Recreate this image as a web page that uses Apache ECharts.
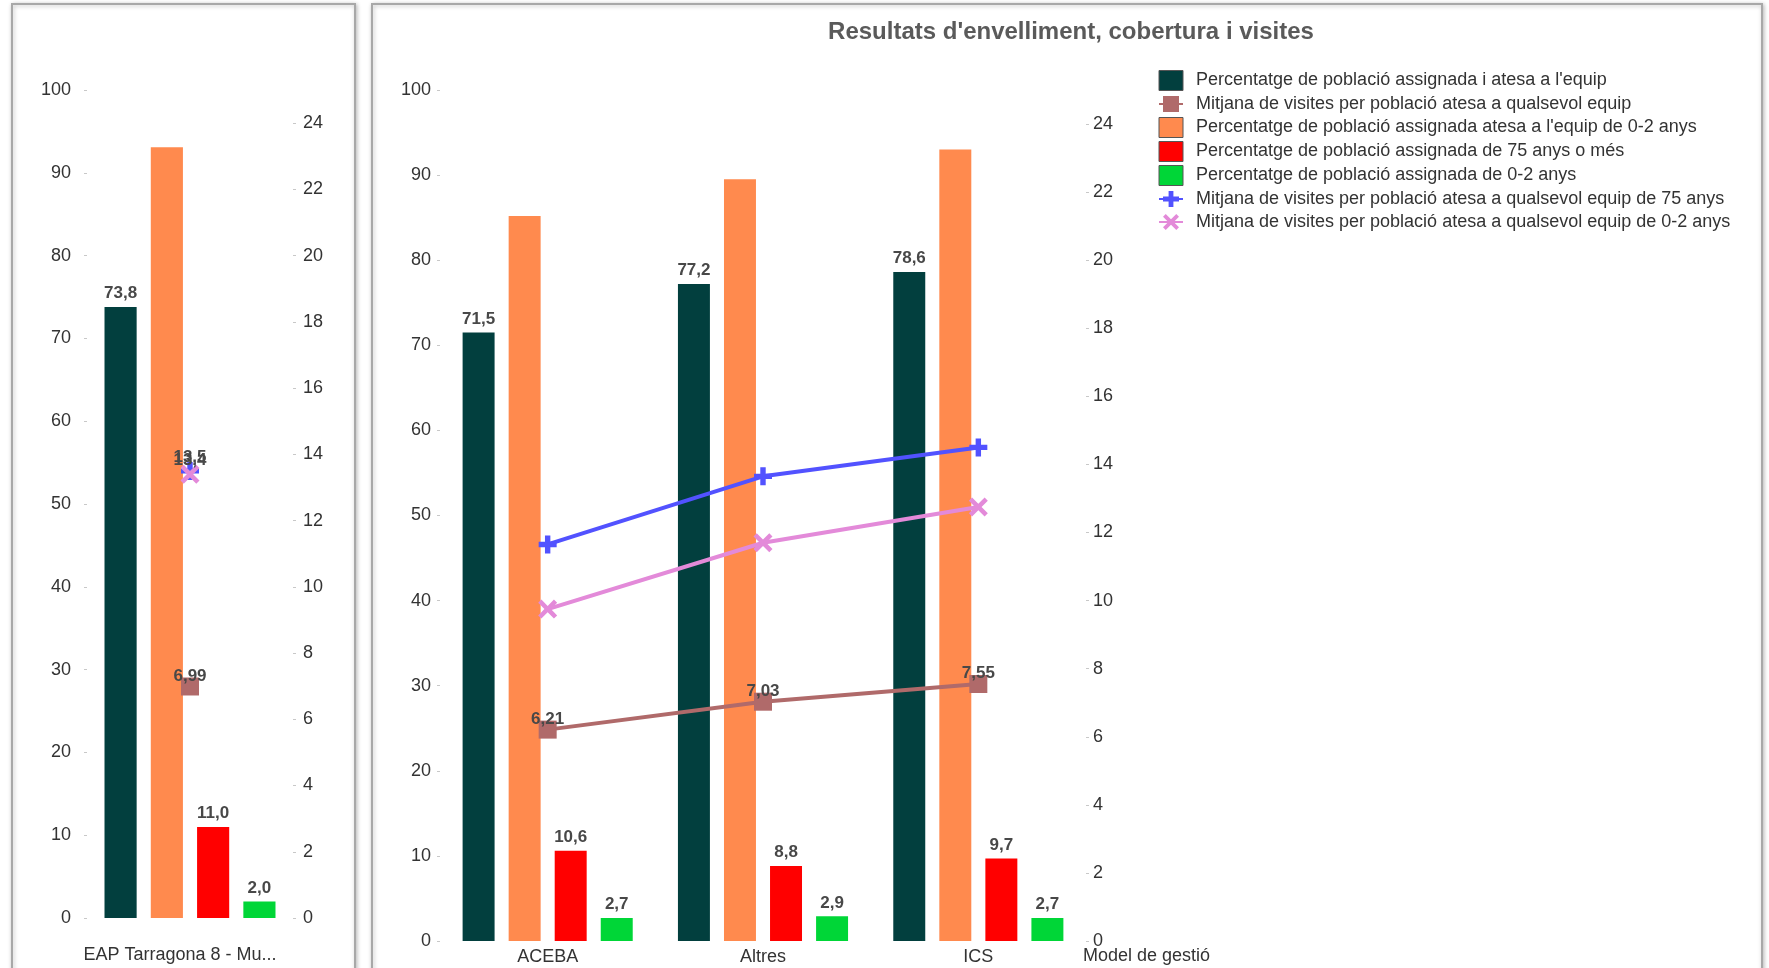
<!DOCTYPE html>
<html>
<head>
<meta charset="utf-8">
<script src="https://cdn.jsdelivr.net/npm/echarts@6/dist/echarts.min.js"></script>
<style>
html,body{margin:0;padding:0;background:#fff;}
#c{width:1769px;height:968px;}
</style>
</head>
<body>
<div id="c"></div>
<script>
// ---------- data ----------
const chartTitle = "Resultats d'envelliment, cobertura i visites";
const leftCategories = ["EAP Tarragona 8 - Mu..."];
const mainCategories = ["ACEBA", "Altres", "ICS"];
const xAxisName = "Model de gestió";

const nameAtesa    = "Percentatge de població assignada i atesa a l'equip";
const nameVisites  = "Mitjana de visites per població atesa a qualsevol equip";
const nameAtesa02  = "Percentatge de població assignada atesa a l'equip de 0-2 anys";
const name75       = "Percentatge de població assignada de 75 anys o més";
const name02       = "Percentatge de població assignada de 0-2 anys";
const nameVis75    = "Mitjana de visites per població atesa a qualsevol equip de 75 anys";
const nameVis02    = "Mitjana de visites per població atesa a qualsevol equip de 0-2 anys";
const legendOrder = [nameAtesa, nameVisites, nameAtesa02, name75, name02, nameVis75, nameVis02];

const leftTicks  = [0, 10, 20, 30, 40, 50, 60, 70, 80, 90, 100];
const rightTicks = [0, 2, 4, 6, 8, 10, 12, 14, 16, 18, 20, 22, 24];

// left panel (EAP)
const leftAtesa   = [73.8];
const leftAtesa02 = [93.1];
const left75      = [11.0];
const left02      = [2.0];
const leftVisites = [6.99];
const leftVis75   = [13.5];
const leftVis02   = [13.4];

// main panel (model de gestió)
const mainAtesa   = [71.5, 77.2, 78.6];
const mainAtesa02 = [85.2, 89.5, 93.0];
const main75      = [10.6, 8.8, 9.7];
const main02      = [2.7, 2.9, 2.7];
const mainVisites = [6.21, 7.03, 7.55];
const mainVis75   = [11.65, 13.65, 14.5];
const mainVis02   = [9.75, 11.7, 12.75];

// ---------- styles ----------
const FONT = "Liberation Sans";
const C_ATESA = "#023F3E", C_ATESA02 = "#FF8A4E", C_75 = "#FF0000", C_02 = "#00D637";
const C_VIS = "#B06A6A", C_VIS75 = "#5252FF", C_VIS02 = "#E38AD9";
const PLUS = "path://M3.5,0 H6.5 V3.5 H10 V6.5 H6.5 V10 H3.5 V6.5 H0 V3.5 H3.5 Z";
const CROSS = "path://M0,1.7 L1.7,0 L5,3.3 L8.3,0 L10,1.7 L6.7,5 L10,8.3 L8.3,10 L5,6.7 L1.7,10 L0,8.3 L3.3,5 Z";

const fmt1 = p => Number(p.value).toFixed(1).replace('.', ',');
const fmt2 = p => Number(p.value).toFixed(2).replace('.', ',');
const valLabel = (show, fmt, extra) => Object.assign({
  show: show, position: 'top', distance: 5, formatter: fmt,
  fontFamily: FONT, fontSize: 17, fontWeight: 'bold', color: '#484848'
}, extra || {});

function panelSeries(idx, d, labelLines) {
  const barCommon = { type: 'bar', xAxisIndex: idx, yAxisIndex: idx * 2, barGap: '44%', barCategoryGap: idx === 0 ? '17%' : '21%' };
  return [
    Object.assign({}, barCommon, { name: nameAtesa, data: d.atesa, itemStyle: { color: C_ATESA }, label: valLabel(true, fmt1) }),
    Object.assign({}, barCommon, { name: nameAtesa02, data: d.atesa02, itemStyle: { color: C_ATESA02 }, label: valLabel(false, fmt1) }),
    Object.assign({}, barCommon, { name: name75, data: d.p75, itemStyle: { color: C_75 }, label: valLabel(true, fmt1) }),
    Object.assign({}, barCommon, { name: name02, data: d.p02, itemStyle: { color: C_02 }, label: valLabel(true, fmt1) }),
    { type: 'line', name: nameVisites, xAxisIndex: idx, yAxisIndex: idx * 2 + 1, data: d.vis,
      symbol: 'rect', symbolSize: 18, lineStyle: { color: C_VIS, width: 4 }, itemStyle: { color: C_VIS },
      label: valLabel(true, fmt2, { distance: -7 }) },
    { type: 'line', name: nameVis75, xAxisIndex: idx, yAxisIndex: idx * 2 + 1, data: d.vis75,
      symbol: PLUS, symbolSize: 18, lineStyle: { color: C_VIS75, width: 4 }, itemStyle: { color: C_VIS75 },
      label: valLabel(labelLines, fmt1, { distance: -4 }) },
    { type: 'line', name: nameVis02, xAxisIndex: idx, yAxisIndex: idx * 2 + 1, data: d.vis02,
      symbol: CROSS, symbolSize: 19, lineStyle: { color: C_VIS02, width: 4 }, itemStyle: { color: C_VIS02 },
      label: valLabel(labelLines, fmt1, { distance: -4 }) }
  ];
}

function yAxes(gridIdx, leftMargin, rightMargin) {
  const lab = { fontFamily: FONT, fontSize: 18, color: '#333' };
  const tick = { show: true, length: 3, lineStyle: { color: '#c8c8c8', width: 1 } };
  return [
    { type: 'value', gridIndex: gridIdx, position: 'left', min: 0, max: 100,
      axisLine: { show: false }, splitLine: { show: false },
      axisTick: Object.assign({ customValues: leftTicks }, tick),
      axisLabel: Object.assign({ customValues: leftTicks, margin: leftMargin }, lab) },
    { type: 'value', gridIndex: gridIdx, position: 'right', min: 0, max: 25,
      axisLine: { show: false }, splitLine: { show: false },
      axisTick: Object.assign({ customValues: rightTicks }, tick),
      axisLabel: Object.assign({ customValues: rightTicks, margin: rightMargin }, lab) }
  ];
}

const chart = echarts.init(document.getElementById('c'), null, { renderer: 'canvas' });

const option = {
  animation: false,
  backgroundColor: '#ffffff',
  title: {
    text: chartTitle, left: 1066, top: 15, textAlign: 'center',
    textStyle: { fontFamily: FONT, fontSize: 24, fontWeight: 'bold', color: '#5a5a5a' }
  },
  legend: {
    orient: 'vertical', left: 1158, top: 70, padding: 0,
    itemWidth: 24, itemHeight: 20, itemGap: 3,
    data: legendOrder.map((n, i) => {
      const isBar = (i === 0 || i === 2 || i === 3 || i === 4);
      return isBar ? { name: n, icon: 'rect', itemStyle: { borderColor: '#555', borderWidth: 1 } } : { name: n };
    }),
    textStyle: { fontFamily: FONT, fontSize: 18, color: '#333', lineHeight: 20, padding: [0, 0, 0, 8] }
  },
  graphic: [
    { type: 'rect', silent: true, z: -10, shape: { x: 12, y: 4, width: 343, height: 980 },
      style: { fill: '#fff', stroke: '#a8a8a8', lineWidth: 2, shadowBlur: 4, shadowColor: 'rgba(0,0,0,0.25)', shadowOffsetX: 1, shadowOffsetY: 1 } },
    { type: 'rect', silent: true, z: -10, shape: { x: 372, y: 4, width: 1390, height: 980 },
      style: { fill: '#fff', stroke: '#a8a8a8', lineWidth: 2, shadowBlur: 4, shadowColor: 'rgba(0,0,0,0.25)', shadowOffsetX: 1, shadowOffsetY: 1 } }
  ],
  grid: [
    { left: 87, top: 90, width: 206, height: 828 },
    { left: 440, top: 90, width: 646, height: 851 }
  ],
  xAxis: [
    { type: 'category', gridIndex: 0, data: leftCategories,
      axisLine: { show: false }, axisTick: { show: false },
      axisLabel: { margin: 28, padding: [0, 20, 0, 0], fontFamily: FONT, fontSize: 18, color: '#333' } },
    { type: 'category', gridIndex: 1, data: mainCategories,
      axisLine: { show: false }, axisTick: { show: false },
      axisLabel: { margin: 7, fontFamily: FONT, fontSize: 18, color: '#333' },
      name: xAxisName, nameLocation: 'end', nameGap: -3, nameMoveOverlap: false,
      nameTextStyle: { fontFamily: FONT, fontSize: 18, color: '#333', align: 'left', verticalAlign: 'top', padding: [6, 0, 0, 0] } }
  ],
  yAxis: yAxes(0, 16, 10).concat(yAxes(1, 9, 7)),
  series: panelSeries(0, { atesa: leftAtesa, atesa02: leftAtesa02, p75: left75, p02: left02, vis: leftVisites, vis75: leftVis75, vis02: leftVis02 }, true)
    .concat(panelSeries(1, { atesa: mainAtesa, atesa02: mainAtesa02, p75: main75, p02: main02, vis: mainVisites, vis75: mainVis75, vis02: mainVis02 }, false))
};

chart.setOption(option);
</script>
</body>
</html>
